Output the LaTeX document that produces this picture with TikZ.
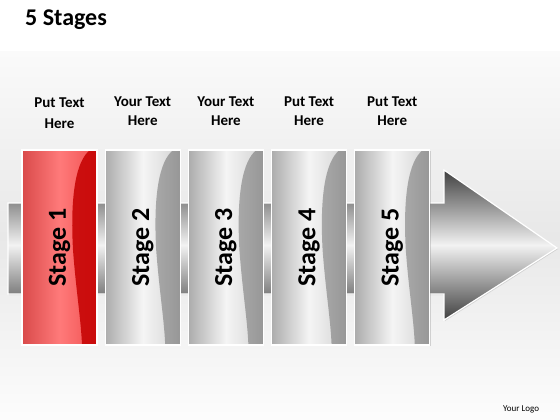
\documentclass[tikz,border=0pt]{standalone}
\usepackage{fontspec}
\setmainfont{Carlito}
\usepackage{graphicx}
\usetikzlibrary{positioning, chains, shadows}

\definecolor{redleft}{HTML}{D94A4A}
\definecolor{redmid}{HTML}{FF7A7A}
\definecolor{redright}{HTML}{F05050}
\definecolor{reddark}{HTML}{C40000}

\begin{document}
\begin{tikzpicture}[x=1pt, y=-1pt,
    wave/.style={fill=black, fill opacity=0.28},
    stagebox/.style={
      rectangle,
      draw=white,
      line width=1.2pt,
      inner sep=0pt,
      minimum width=75pt,
      minimum height=195pt,
      left color=gray!65, right color=gray!35, middle color=gray!8,
      drop shadow={opacity=0.3, shadow xshift=0.8pt, shadow yshift=-0.8pt},
      path picture={
        \fill[wave] (path picture bounding box.north east) -- ++(-7,0)
          .. controls +(-14,11) and +(-3,-55) .. ++(-17,100)
          .. controls +(3,40) and +(-1,-25) .. ++(9,95) -- ++(15,0) -- cycle;
      },
      font=\fontsize{26}{28}\selectfont\bfseries
    },
    redbox/.style={stagebox,
      left color=redleft, right color=redright, middle color=redmid,
      wave/.style={fill=reddark, fill opacity=0.85}},
    caption/.style={align=center, inner sep=0pt,
      font=\fontsize{15}{19}\selectfont\bfseries},
    arrowbody/.style={draw=white, line width=1.2pt,
      top color=black!75, bottom color=black!75, middle color=gray!10,
      drop shadow={opacity=0.25, shadow xshift=1pt, shadow yshift=-1pt}},
    start chain=going right,
    node distance=7pt]
  \useasboundingbox (0,0) rectangle (560,420);
  % background
  \fill[white] (0,0) rectangle (560,420);
  \shade[top color=gray!4, bottom color=gray!2, middle color=gray!18] (0,52) rectangle (560,420);

  \node[anchor=base west, inner sep=0pt, font=\fontsize{24}{28}\selectfont\bfseries] (title) at (25,26) {5 Stages};

  % big arrow behind the stages
  \path[arrowbody] (8,203) -- (444,203) -- (444,170) -- (557,248) -- (444,320) -- (444,294) -- (8,294) -- cycle;

  \node[redbox,on chain] (s1) at (59.5,247.5) {\rotatebox{90}{Stage 1}};
  \node[stagebox,on chain] (s2) {\rotatebox{90}{Stage 2}};
  \node[stagebox,on chain] (s3) {\rotatebox{90}{Stage 3}};
  \node[stagebox,on chain] (s4) {\rotatebox{90}{Stage 4}};
  \node[stagebox,on chain] (s5) {\rotatebox{90}{Stage 5}};

  \node[caption, above=21pt of s1, font=\fontsize{15}{21}\selectfont\bfseries] (t1) {Put Text\\Here};
  \node[caption, above=24pt of s2] (t2) {Your Text\\Here};
  \node[caption, above=24pt of s3] (t3) {Your Text\\Here};
  \node[caption, above=24pt of s4] (t4) {Put Text\\Here};
  \node[caption, above=24pt of s5] (t5) {Put Text\\Here};

  \node[anchor=base west, inner sep=0pt, font=\fontsize{9}{10}\selectfont] (logo) at (503,411) {Your Logo};
\end{tikzpicture}
\end{document}
